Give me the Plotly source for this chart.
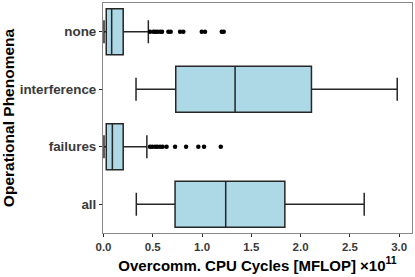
import plotly.graph_objects as go

categories = ["all", "failures", "interference", "none"]
positions = [1, 2, 3, 4]
lower_whisker = [0.333, 0.005, 0.33, 0.005]
q1 = [0.726, 0.028, 0.733, 0.028]
median = [1.24, 0.09, 1.335, 0.083]
q3 = [1.84, 0.20, 2.11, 0.20]
upper_whisker = [2.645, 0.44, 2.98, 0.455]

outliers_none = [0.472, 0.506, 0.523, 0.546, 0.574, 0.594, 0.658, 0.682,
                 0.777, 0.81, 0.997, 1.03, 1.20, 1.22]
outliers_failures = [0.472, 0.495, 0.523, 0.546, 0.574, 0.60, 0.64, 0.726,
                     0.838, 0.962, 1.02, 1.19]

x_ticks = [0.0, 0.5, 1.0, 1.5, 2.0, 2.5, 3.0]
x_ticktext = ["0.0", "0.5", "1.0", "1.5", "2.0", "2.5", "3.0"]

line_col = "#262626"
fig = go.Figure()

fig.add_trace(go.Box(
    y=positions, q1=q1, median=median, q3=q3,
    lowerfence=lower_whisker, upperfence=upper_whisker,
    orientation="h", width=0.8, boxpoints=False,
    fillcolor="#add8e6", line=dict(color=line_col, width=1.5),
    whiskerwidth=0, showlegend=False, hoverinfo="skip"))

# whisker caps
cap_half = 0.2
cx, cy = [], []
for p, lw, uw in zip(positions, lower_whisker, upper_whisker):
    for v in (lw, uw):
        cx += [v, v, None]
        cy += [p - cap_half, p + cap_half, None]
fig.add_trace(go.Scatter(x=cx, y=cy, mode="lines",
                         line=dict(color=line_col, width=1.5),
                         showlegend=False, hoverinfo="skip"))

ox = outliers_none + outliers_failures
oy = [positions[categories.index("none")]] * len(outliers_none) + \
     [positions[categories.index("failures")]] * len(outliers_failures)
fig.add_trace(go.Scatter(x=ox, y=oy, mode="markers",
                         marker=dict(color="black", size=4.5),
                         showlegend=False, hoverinfo="skip"))

fig.update_layout(
    width=415, height=277,
    margin=dict(l=103, r=3, t=3, b=44),
    plot_bgcolor="white", paper_bgcolor="white",
    font=dict(family="Liberation Sans, Arial, sans-serif"),
)
fig.update_xaxes(
    automargin=False,
    range=[-0.005, 3.13], tickvals=x_ticks, ticktext=x_ticktext,
    ticks="outside", ticklen=3, tickcolor=line_col, tickwidth=1,
    tickfont=dict(size=11.5, color="#3a3a3a", weight="bold"),
    showgrid=False, zeroline=False,
    showline=True, linecolor="#888888", linewidth=1, mirror=True,
    title=dict(text="Overcomm. CPU Cycles [MFLOP] ×10<sup>11</sup>",
               font=dict(size=15, color="black", weight="bold"), standoff=8),
)
fig.update_yaxes(
    automargin=False,
    range=[0.5, 4.5], tickvals=positions, ticktext=categories,
    ticks="outside", ticklen=3, tickcolor=line_col, tickwidth=1,
    tickfont=dict(size=13.4, color="#3a3a3a", weight="bold"),
    showgrid=False, zeroline=False,
    showline=True, linecolor="#888888", linewidth=1, mirror=True,
    title=dict(text="Operational Phenomena",
               font=dict(size=15.5, color="black", weight="bold"), standoff=4),
)

fig.write_html(
    "out.html",
    config={"displayModeBar": False},
    post_script="document.body.style.margin='0';document.body.style.padding='0';"
                "document.body.style.overflow='hidden';",
)
